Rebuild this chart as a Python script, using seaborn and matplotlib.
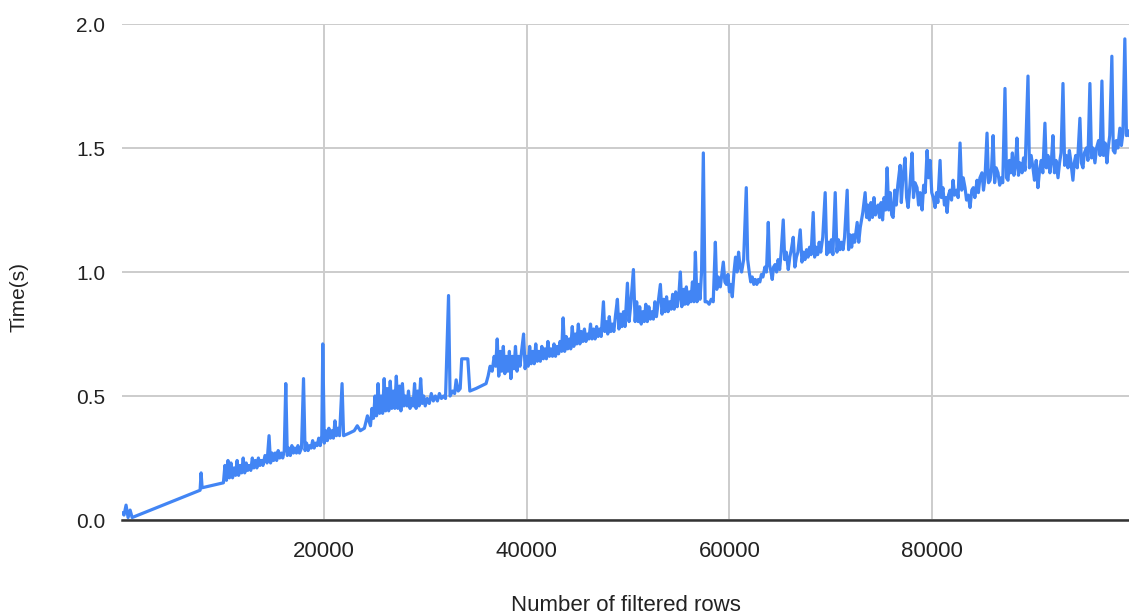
import matplotlib
matplotlib.use("Agg")
import matplotlib.pyplot as plt
import seaborn as sns
import pandas as pd

# (filtered rows, time in s), segment by segment
start_pts = [(100, .03), (300, .02), (500, .06), (700, .01), (900, .04), (1100, .01),
             (7800, .12), (7900, .19), (8000, .13), (10100, .15)]

seg_10k = [(10250, .22), (10400, .16), (10550, .24), (10700, .17), (10850, .23), (11000, .17),
           (11150, .21), (11300, .18), (11450, .24), (11600, .18), (11750, .22), (11900, .19),
           (12050, .25), (12200, .19), (12350, .23), (12500, .20), (12650, .22), (12800, .20),
           (12950, .25), (13100, .21), (13250, .24), (13400, .21), (13550, .25), (13700, .22),
           (13850, .24), (14000, .22), (14200, .26), (14400, .23), (14600, .34), (14750, .23),
           (14900, .27), (15050, .24), (15200, .27), (15350, .24), (15500, .28), (15650, .25),
           (15800, .27), (15950, .25), (16100, .28), (16250, .55), (16400, .26), (16550, .29),
           (16700, .26), (16850, .30), (17000, .27), (17150, .29), (17300, .27), (17450, .30),
           (17600, .27), (17800, .29), (18000, .57), (18150, .28), (18300, .31), (18450, .28),
           (18600, .30), (18750, .29), (18900, .32), (19050, .29), (19200, .31), (19350, .30),
           (19500, .33), (19650, .30), (19800, .34), (19900, .71), (20050, .31), (20200, .36),
           (20350, .32), (20500, .37), (20650, .33), (20800, .36), (20950, .33), (21100, .40),
           (21250, .34), (21400, .37), (21550, .34), (21800, .55), (21950, .34), (22500, .35),
           (23000, .36), (23300, .38), (23600, .36), (24000, .37), (24300, .42), (24600, .38)]

seg_25k = [(24750, .45), (24900, .41), (25050, .50), (25200, .42), (25350, .55), (25500, .43),
           (25650, .50), (25800, .43), (25950, .57), (26100, .44), (26250, .53), (26400, .44),
           (26550, .56), (26700, .45), (26850, .52), (27000, .45), (27150, .58), (27300, .45),
           (27450, .54), (27600, .44), (27750, .55), (27900, .46), (28050, .50), (28200, .46),
           (28350, .52), (28500, .45), (28650, .49), (28800, .46), (28950, .55), (29100, .45),
           (29250, .52), (29400, .46), (29550, .57), (29700, .47), (29850, .50), (30000, .46),
           (30200, .49), (30400, .47), (30600, .51), (30800, .48), (31000, .50), (31200, .48),
           (31400, .51), (31600, .49), (31800, .50), (32000, .49), (32300, .905), (32450, .50),
           (32700, .52), (32900, .51), (33050, .565), (33250, .52), (33450, .53), (33600, .65),
           (34200, .65), (34400, .52), (35000, .53), (35500, .54), (36000, .55), (36200, .58),
           (36400, .62), (36600, .60), (36800, .66), (36950, .62)]

seg_37k = [(37100, .73), (37250, .58), (37400, .68), (37550, .60), (37700, .70), (37850, .59),
           (38000, .66), (38150, .60), (38300, .68), (38450, .57), (38600, .66), (38750, .61),
           (38900, .70), (39050, .60), (39200, .66), (39350, .62), (39500, .68), (39700, .75),
           (39850, .61), (40000, .66), (40150, .62), (40300, .70), (40450, .63), (40600, .68),
           (40750, .63), (40900, .71), (41050, .64), (41200, .68), (41350, .64), (41500, .70),
           (41650, .65), (41800, .69), (41950, .65), (42100, .72), (42250, .66), (42400, .69),
           (42550, .66), (42700, .71), (42850, .66), (43000, .70), (43150, .67), (43300, .72),
           (43450, .68), (43600, .815), (43750, .68), (43900, .74), (44050, .69), (44200, .73),
           (44350, .69), (44500, .78), (44650, .70), (44800, .75), (44950, .71), (45100, .79),
           (45250, .71), (45400, .76), (45550, .72), (45700, .77), (45850, .72), (46000, .75),
           (46150, .73), (46300, .79), (46450, .73), (46600, .77), (46750, .73), (46900, .78),
           (47050, .74), (47200, .77), (47350, .74), (47575, .88), (47700, .76), (47850, .80),
           (48000, .75), (48150, .82), (48300, .76), (48450, .79), (48600, .76), (48750, .82),
           (48950, .89), (49100, .77), (49250, .83), (49400, .78), (49550, .84), (49700, .78),
           (49940, .955), (50100, .80), (50250, .86), (50530, 1.01), (50700, .80)]

seg_51k = [(50850, .88), (51000, .80), (51150, .86), (51300, .79), (51450, .84), (51600, .80),
           (51750, .87), (51900, .80), (52050, .86), (52200, .81), (52350, .84), (52500, .81),
           (52650, .88), (52800, .82), (52950, .87), (53190, .95), (53350, .83), (53500, .89),
           (53650, .84), (53800, .90), (53950, .84), (54100, .88), (54250, .85), (54400, .91),
           (54550, .85), (54700, .92), (54850, .86), (55000, .90), (55160, 1.00), (55300, .86),
           (55450, .93), (55600, .87), (55750, .94), (55900, .87), (56050, .92), (56200, .88),
           (56350, .96), (56500, .88), (56640, 1.08), (56800, .88), (56950, .95), (57100, .89),
           (57250, 1.00), (57425, 1.48), (57600, .88)]

seg_58k = [(57800, .88), (58000, .87), (58200, .89), (58400, .88), (58610, 1.12), (58750, .93),
           (58900, .98), (59100, .94), (59250, .99), (59395, 1.04), (59550, .96), (59700, .95),
           (59850, .99), (60000, .92), (60150, .95), (60280, .90), (60450, 1.00), (60600, 1.06),
           (60750, 1.00), (60900, 1.08), (61050, 1.02), (61200, 1.00), (61400, 1.05), (61660, 1.34),
           (61800, 1.05), (61950, 1.00), (62100, .96), (62250, .98), (62400, .95), (62550, .97),
           (62700, .95), (62850, .97), (63000, .96), (63150, .99), (63300, .98), (63500, 1.02),
           (63650, 1.00), (63830, 1.20), (63950, 1.03), (64100, 1.00), (64220, .97), (64350, 1.02),
           (64500, 1.03), (64650, 1.00), (64800, 1.05), (64950, 1.01), (65100, 1.08), (65305, 1.21),
           (65450, 1.05), (65600, 1.08), (65800, 1.01), (65950, 1.06), (66100, 1.09), (66290, 1.14),
           (66450, 1.02), (66600, 1.06), (66750, 1.08), (66980, 1.17), (67150, 1.04), (67300, 1.08),
           (67450, 1.05), (67600, 1.09), (67750, 1.06), (67900, 1.10), (68050, 1.07), (68260, 1.24),
           (68400, 1.06), (68550, 1.10), (68700, 1.07), (68850, 1.12), (69000, 1.08), (69200, 1.14),
           (69440, 1.32), (69600, 1.07), (69750, 1.12), (69900, 1.08), (70050, 1.13), (70200, 1.07),
           (70430, 1.32), (70600, 1.08), (70750, 1.13), (70900, 1.09), (71050, 1.12), (71200, 1.09),
           (71350, 1.14), (71610, 1.33), (71750, 1.09), (71900, 1.15), (72050, 1.10), (72200, 1.15),
           (72350, 1.12), (72595, 1.20), (72750, 1.12), (72900, 1.18)]

seg_73k = [(73150, 1.24), (73380, 1.32), (73520, 1.22), (73650, 1.27), (73800, 1.21), (73950, 1.28),
           (74100, 1.22), (74250, 1.30), (74400, 1.23), (74550, 1.26), (74665, 1.27), (74800, 1.22),
           (74950, 1.28), (75100, 1.21), (75250, 1.30), (75400, 1.25), (75550, 1.42), (75700, 1.25),
           (75850, 1.32), (76000, 1.23), (76140, 1.22), (76300, 1.33), (76450, 1.27), (76600, 1.35),
           (76830, 1.43), (76950, 1.28), (77100, 1.38), (77320, 1.46), (77470, 1.30), (77620, 1.26),
           (77800, 1.35), (78010, 1.48), (78150, 1.30), (78300, 1.36), (78500, 1.34), (78650, 1.27),
           (78800, 1.32), (79000, 1.25), (79150, 1.35), (79300, 1.32), (79490, 1.49), (79650, 1.38),
           (79785, 1.45), (79950, 1.32), (80100, 1.30), (80280, 1.26), (80420, 1.32), (80550, 1.28),
           (80770, 1.45), (80900, 1.30), (81050, 1.34), (81200, 1.27), (81350, 1.30), (81460, 1.24),
           (81600, 1.31), (81750, 1.33), (81900, 1.29), (82050, 1.37), (82200, 1.31), (82400, 1.33),
           (82550, 1.30), (82740, 1.52), (82900, 1.33), (83050, 1.38), (83230, 1.34), (83380, 1.29),
           (83550, 1.31), (83725, 1.26), (83900, 1.33), (84050, 1.34), (84200, 1.30), (84415, 1.37),
           (84550, 1.32), (84700, 1.38), (84900, 1.40), (85050, 1.33), (85200, 1.38), (85400, 1.56)]

seg_85k = [(85550, 1.36), (85700, 1.37), (85850, 1.42), (86000, 1.55), (86150, 1.36), (86300, 1.42),
           (86480, 1.40), (86650, 1.35), (86800, 1.38), (86950, 1.36), (87170, 1.74), (87320, 1.38),
           (87470, 1.37), (87600, 1.45), (87750, 1.40), (87900, 1.48), (88050, 1.39), (88200, 1.43),
           (88350, 1.54), (88500, 1.39), (88650, 1.44), (88850, 1.40), (89000, 1.46), (89150, 1.41),
           (89440, 1.79), (89580, 1.42), (89750, 1.47), (89930, 1.42), (90080, 1.37), (90250, 1.45),
           (90420, 1.34), (90580, 1.41), (90750, 1.45), (90900, 1.40), (91110, 1.60), (91250, 1.42),
           (91400, 1.47), (91600, 1.40), (91750, 1.45), (91900, 1.55), (92050, 1.40), (92200, 1.45),
           (92400, 1.38), (92550, 1.44), (92700, 1.48), (92890, 1.76), (93050, 1.43), (93200, 1.47),
           (93380, 1.42), (93520, 1.49), (93650, 1.45), (93870, 1.37), (94000, 1.44), (94150, 1.47),
           (94300, 1.42), (94560, 1.62), (94700, 1.44), (94860, 1.42), (95000, 1.48), (95200, 1.50),
           (95350, 1.45), (95545, 1.76), (95700, 1.46), (95850, 1.50), (96040, 1.44), (96200, 1.50),
           (96400, 1.53), (96550, 1.47), (96730, 1.77), (96880, 1.47), (97050, 1.52), (97220, 1.44),
           (97350, 1.50), (97500, 1.55), (97710, 1.87), (97850, 1.49), (98010, 1.48), (98150, 1.53),
           (98300, 1.50), (98500, 1.58), (98650, 1.51), (98800, 1.56), (98990, 1.94), (99150, 1.55),
           (99290, 1.57), (99400, 1.55)]

x_ticks = [20000, 40000, 60000, 80000]
y_ticks = [0.0, 0.5, 1.0, 1.5, 2.0]

allpts = start_pts + seg_10k + seg_25k + seg_37k + seg_51k + seg_58k + seg_73k + seg_85k
df = pd.DataFrame(allpts, columns=["rows", "time"])

sns.set_style("white")
plt.rcParams['font.family'] = ['Liberation Sans', 'DejaVu Sans']

fig = plt.figure(figsize=(11.29, 6.15), dpi=100)
ax = fig.add_axes([122/1129, 1 - 520/615, 1 - 122/1129, (520 - 24)/615])

sns.lineplot(data=df, x="rows", y="time", ax=ax, color="#4285F4",
             linewidth=2.3, estimator=None, sort=False)

ax.set_xlim(100, 99400)
ax.set_ylim(0, 2.0)
ax.set_xticks(x_ticks)
ax.set_xticklabels([str(t) for t in x_ticks])
ax.set_yticks(y_ticks)
ax.set_yticklabels(["%.1f" % t for t in y_ticks])

ax.grid(True, color="#cccccc", linewidth=1.4)
ax.set_axisbelow(True)
for s in ["top", "right", "left"]:
    ax.spines[s].set_visible(False)
ax.spines["bottom"].set_color("#333333")
ax.spines["bottom"].set_linewidth(1.8)
ax.spines["bottom"].set_zorder(5)

ax.tick_params(axis="x", length=0, pad=15, labelsize=16, colors="#222222")
ax.tick_params(axis="y", length=0, pad=12, labelsize=15, colors="#222222")

ax.set_xlabel("Number of filtered rows", fontsize=16, color="#222222", labelpad=24)
ax.set_ylabel("Time(s)", fontsize=15, color="#222222", labelpad=34)
ax.yaxis.label.set_y(0.45)

fig.savefig("out.png", dpi=100)
